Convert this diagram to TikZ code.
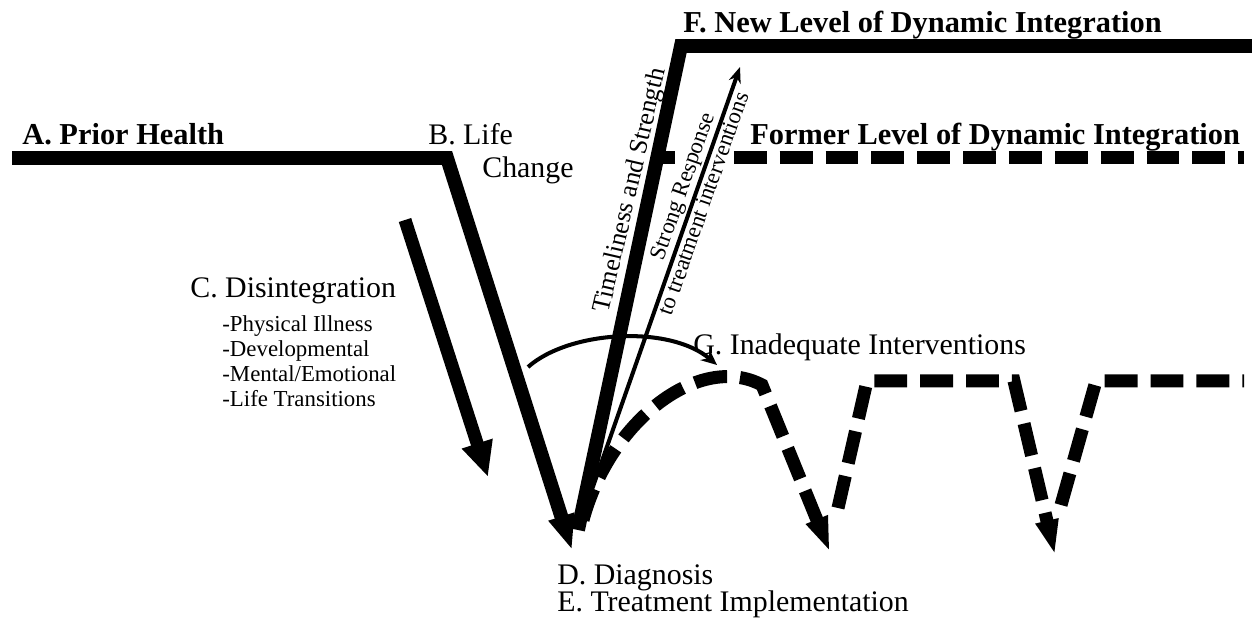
\documentclass[tikz,border=0pt]{standalone}
\usepackage{fontspec}
\setmainfont{Liberation Serif}
\usetikzlibrary{arrows.meta, positioning}

\begin{document}
\begin{tikzpicture}[x=0.02cm, y=-0.02cm,
    heavy/.style={line width=7.9pt, line join=miter},
    dashy/.style={line width=7.4pt, dash pattern=on 18.7pt off 7.4pt},
    slim/.style={line width=2.3pt},
    lbl/.style={font=\fontsize{17}{20}\selectfont, inner sep=0pt, anchor=base west},
    title/.style={lbl, font=\fontsize{17.3}{20}\selectfont\bfseries},
    small/.style={font=\fontsize{13}{14.2}\selectfont, align=left, inner sep=0pt},
    resp/.style={sloped, fill=white, inner sep=1.5pt, font=\fontsize{13}{14}\selectfont}]
  \useasboundingbox (0,0) rectangle (1252,631);
  % turning points of the curves
  \coordinate (a_start) at (12,158);
  \coordinate (b_turn) at (447,158);
  \coordinate (d_tip) at (572,550);
  \coordinate (d_base) at (578,530);
  \coordinate (f_turn) at (681,46);
  \coordinate (f_end) at (1252,46);
  \coordinate (e_start) at (663,158);
  \coordinate (e_end) at (1244,158);
  \coordinate (r_base) at (582,518);
  \coordinate (r_tip) at (740,67);
  \coordinate (c_top) at (405,220);
  \coordinate (c_tip) at (488,477);
  \coordinate (arc_start) at (528,367);
  \coordinate (arc_end) at (717,365);
  \coordinate (g_start) at (583,520);
  \coordinate (g_peak) at (762,385);
  \coordinate (v1_tip) at (830,552);
  \coordinate (v1_up) at (838,508);
  \coordinate (v1_top) at (867,381);
  \coordinate (v2_turn) at (1014,381);
  \coordinate (v2_tip) at (1055,555);
  \coordinate (v2_up) at (1061,505);
  \coordinate (v2_top) at (1096,381);
  \coordinate (g_end) at (1244,381);

  % former level, partly hidden by the response label
  \draw[dashy, dash phase=11.9pt] (e_start) -- (e_end);
  \path (r_base) -- (r_tip)
    node[resp, pos=0.725, above] (r_strong) {Strong Response}
    node[resp, pos=0.705, below] (r_treat) {to treatment interventions};

  % labels
  \node[title] (a_prior) at (22,145) {A. Prior Health};
  \node[lbl] (b_life) at (428,145) {B. Life};
  \node[lbl] (b_change) at (482,178) {Change};
  \node[lbl] (c_dis) at (190,298) {C. Disintegration};
  \node[small, anchor=north west] (c_list) at (222,315)
    {-Physical Illness\\-Developmental\\-Mental/Emotional\\-Life Transitions};
  \node[lbl] (d_diag) at (557,585) {D. Diagnosis};
  \node[lbl] (e_treat) at (557,612) {E. Treatment Implementation};
  \node[title] (f_new) at (683,33) {F. New Level of Dynamic Integration};
  \node[title] (f_former) at (750,145) {Former Level of Dynamic Integration};
  \node[lbl] (g_inad) at (693,355) {G. Inadequate Interventions};

  % main course
  \draw[heavy, -{Triangle[length=20pt,width=14pt]}] (a_start) -- (b_turn) -- (d_tip);
  \draw[heavy] (d_base) -- (f_turn) -- (f_end);
  \node[rotate=77, anchor=base, inner sep=0pt,
    font=\fontsize{14.7}{17}\selectfont] (t_text) at (637,192) {Timeliness and Strength};
  \draw[slim, -{Stealth[length=9pt,width=7pt]}] (r_base) -- (r_tip);
  \draw[line width=7.4pt, -{Triangle[length=20pt,width=17pt]}] (c_top) -- (c_tip);
  \draw[slim, -{Stealth[length=9pt,width=8pt]}] (arc_start)
    .. controls (570,330) and (670,325) .. (arc_end);

  % inadequate interventions
  \draw[dashy, -{Triangle[length=20pt,width=12pt]}] (g_start)
    .. controls (610,420) and (700,352) .. (g_peak) -- (v1_tip);
  \draw[dashy, line join=miter, -{Triangle[length=20pt,width=12pt]}] (v1_up) -- (v1_top) -- (v2_turn) -- (v2_tip);
  \draw[dashy, line join=miter] (v2_up) -- (v2_top) -- (g_end);
\end{tikzpicture}
\end{document}
